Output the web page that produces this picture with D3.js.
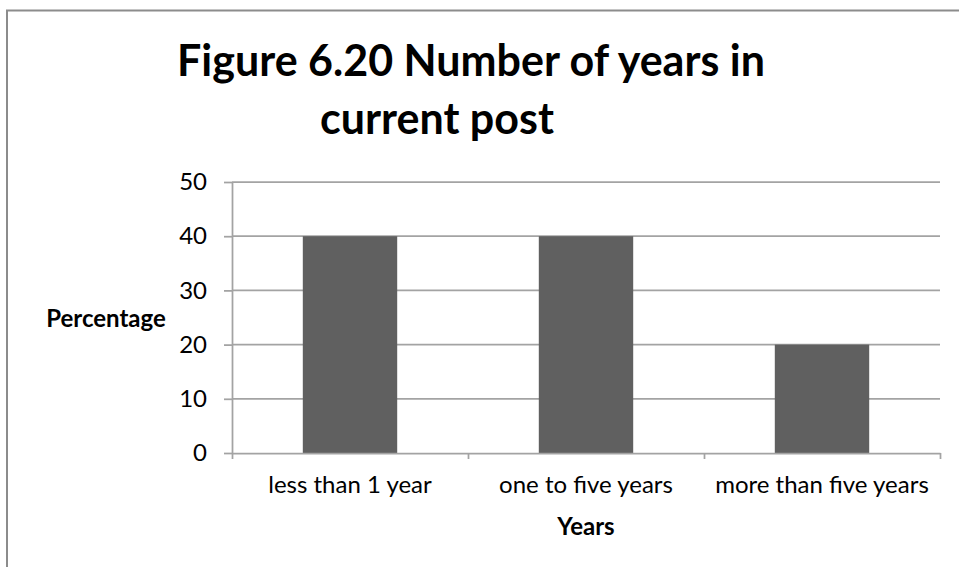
<!DOCTYPE html>
<html>
<head>
<meta charset="utf-8">
<script src="https://cdn.jsdelivr.net/npm/d3@7"></script>
<style>
  body { margin: 0; background: #fff; }
  svg { display: block; font-family: Lato, "Open Sans", sans-serif; }
</style>
</head>
<body>
<svg id="chart" width="959" height="567"></svg>
<script>
const categories = ["less than 1 year", "one to five years", "more than five years"];
const percentages = [40, 40, 20];
const yTicks = [0, 10, 20, 30, 40, 50];
const titleLines = ["Figure 6.20 Number of years in", "current post"];

const svg = d3.select("#chart");
const W = 959, H = 567;
const plot = {left: 232, right: 940, top: 182, bottom: 453};

// outer chart frame (runs off the right and bottom edges)
svg.append("rect")
  .attr("x", 7).attr("y", 10.5)
  .attr("width", W + 10).attr("height", H)
  .attr("fill", "none").attr("stroke", "#8c8c8c").attr("stroke-width", 2);

const x = d3.scaleBand()
  .domain(categories)
  .range([plot.left, plot.right])
  .paddingInner(0.6)
  .paddingOuter(0.3);

const xTickScale = d3.scaleLinear().domain([0, categories.length]).range([plot.left, plot.right]);

const y = d3.scaleLinear().domain([0, 50]).range([plot.bottom, plot.top]);

// gridlines
svg.append("g")
  .selectAll("line")
  .data(yTicks.filter(d => d > 0))
  .join("line")
  .attr("x1", plot.left).attr("x2", plot.right)
  .attr("y1", d => y(d)).attr("y2", d => y(d))
  .attr("stroke", "#a3a3a3").attr("stroke-width", 1.75);

// bars
svg.append("g")
  .selectAll("rect")
  .data(categories)
  .join("rect")
  .attr("x", d => x(d))
  .attr("width", x.bandwidth())
  .attr("y", (d, i) => y(percentages[i]))
  .attr("height", (d, i) => y(0) - y(percentages[i]))
  .attr("fill", "#606060");

// y axis
const yAxis = svg.append("g")
  .attr("transform", `translate(${plot.left},0)`)
  .call(d3.axisLeft(y).tickValues(yTicks).tickSize(8).tickPadding(17).tickSizeOuter(0));

// x axis: ticks between categories
const xAxis = svg.append("g")
  .attr("transform", `translate(0,${plot.bottom})`)
  .call(d3.axisBottom(xTickScale).tickValues(d3.range(categories.length + 1)).tickSize(6).tickFormat("").tickSizeOuter(0));

[yAxis, xAxis].forEach(g => {
  g.select(".domain").attr("stroke", "#a3a3a3").attr("stroke-width", 1.75);
  g.selectAll(".tick line").attr("stroke", "#a3a3a3").attr("stroke-width", 1.75);
});
yAxis.selectAll("text")
  .attr("font-size", 24).attr("fill", "#000").attr("font-family", "Lato, sans-serif");

// category labels
svg.append("g")
  .selectAll("text")
  .data(categories)
  .join("text")
  .attr("x", d => x(d) + x.bandwidth() / 2)
  .attr("y", 493)
  .attr("text-anchor", "middle")
  .attr("font-size", 24)
  .text(d => d);

// axis titles
svg.append("text")
  .attr("x", 106).attr("y", 327)
  .attr("text-anchor", "middle")
  .attr("font-size", 24).attr("font-weight", "bold")
  .text("Percentage");

svg.append("text")
  .attr("x", 586).attr("y", 535)
  .attr("text-anchor", "middle")
  .attr("font-size", 24).attr("font-weight", "bold")
  .text("Years");

// title
svg.append("text")
  .attr("x", 471).attr("y", 76)
  .attr("text-anchor", "middle")
  .attr("font-size", 43).attr("font-weight", "bold")
  .text(titleLines[0]);
svg.append("text")
  .attr("x", 437).attr("y", 134)
  .attr("text-anchor", "middle")
  .attr("font-size", 43).attr("font-weight", "bold")
  .text(titleLines[1]);
</script>
</body>
</html>
